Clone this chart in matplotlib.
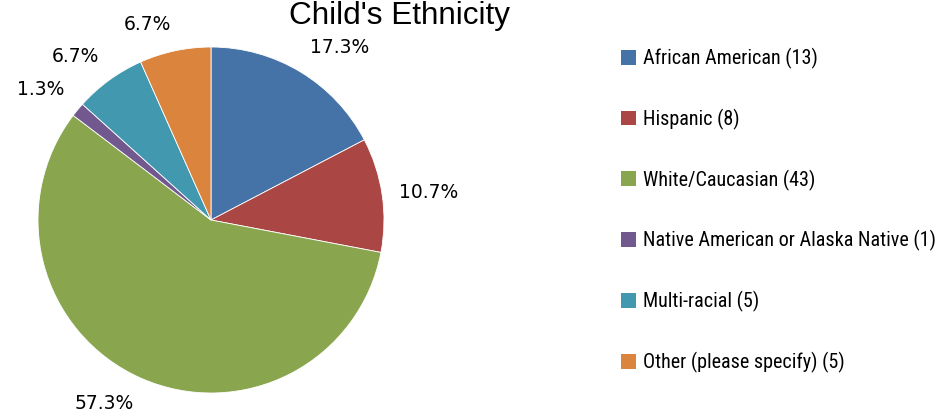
import matplotlib
matplotlib.use("Agg")
import matplotlib.pyplot as plt
from matplotlib import font_manager
import numpy as np

# data
groups = ["African American", "Hispanic", "White/Caucasian",
          "Native American or Alaska Native", "Multi-racial",
          "Other (please specify)"]
counts = [13, 8, 43, 1, 5, 5]
colors = ["#4572A7", "#AA4643", "#89A54E", "#71588F", "#4198AF", "#DB843D"]
title = "Child's Ethnicity"

# narrow font for the legend if one is installed
have = {f.name for f in font_manager.fontManager.ttflist}
narrow = "Liberation Sans"
for name in ["Liberation Sans Narrow", "DejaVu Sans Condensed", "Roboto Condensed"]:
    if name in have:
        narrow = name
        break

fig = plt.figure(figsize=(9.53, 4.16), dpi=100)
ax = fig.add_axes([38 / 953, 23 / 416, 346 / 953, 346 / 416])

wedges, texts, autotexts = ax.pie(
    counts, colors=colors, startangle=90, counterclock=False,
    autopct="%1.1f%%", pctdistance=1.1,
    wedgeprops=dict(edgecolor="white", linewidth=0.6),
    textprops=dict(fontsize=13.5, family="DejaVu Sans", color="#000000"))
ax.set_xlim(-1, 1)
ax.set_ylim(-1, 1)

# "outside end" labels: anchor just off the rim, text pushed outward
for w, t in zip(wedges, autotexts):
    ang = np.deg2rad((w.theta1 + w.theta2) / 2)
    c, s = np.cos(ang), np.sin(ang)
    t.set_position((1.1 * c, 1.1 * s))
    t.set_ha("left" if c > 0 else "right")
    t.set_va("center" if abs(s) < 0.3 else ("bottom" if s > 0 else "top"))

fig.text(400 / 953, 1 - 24 / 416, title, ha="center", va="baseline",
         fontsize=22.7, family="Liberation Sans")

labels = [f"{g} ({c})" for g, c in zip(groups, counts)]
leg = fig.legend(wedges, labels, loc="upper left",
                 bbox_to_anchor=(621 / 953, 1 - 48 / 416),
                 frameon=False, borderpad=0, borderaxespad=0,
                 handlelength=0.75, handleheight=0.75, handletextpad=0.35,
                 labelspacing=1.97, prop=dict(family=narrow, size=14.5))
for h in leg.legend_handles:
    h.set_edgecolor("none")

fig.savefig("out.png", dpi=100)
